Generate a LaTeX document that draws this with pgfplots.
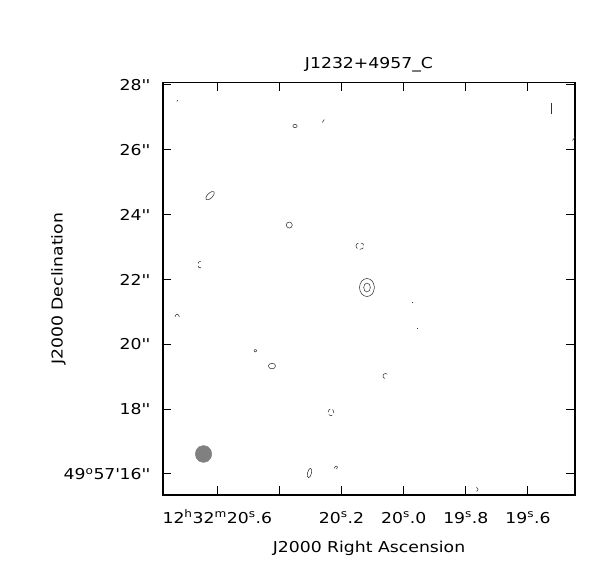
\documentclass[border=0pt]{standalone}
\usepackage{fontspec}
\setmainfont{DejaVu Sans}[FakeStretch=1.15]
\usepackage{pgfplots}
\pgfplotsset{compat=1.18}
\definecolor{beamgray}{gray}{0.5}

\begin{document}
\fontsize{15bp}{18bp}\selectfont
\begin{tikzpicture}
\useasboundingbox (-163bp,-82bp) rectangle (435bp,495bp);
\begin{axis}[
    width=412bp, height=412.5bp, scale only axis,
    x dir=reverse,
    xmin=19.4487, xmax=20.7748,
    ymin=15.352, ymax=28.077,
    tick pos=both, tick align=inside,
    major tick length=8.5bp,
    axis line style={line width=1.1bp},
    every tick/.style={line width=1bp, black},
    xtick={19.6,19.8,20.0,20.2,20.4,20.6},
    xticklabels={19\textsuperscript{s}.6, 19\textsuperscript{s}.8, 20\textsuperscript{s}.0, 20\textsuperscript{s}.2, {},
                 12\textsuperscript{h}32\textsuperscript{m}20\textsuperscript{s}.6},
    ytick={16,18,20,22,24,26,28},
    yticklabels={49\textsuperscript{o}57\textquotesingle16\textquotesingle\textquotesingle,
                 18\textquotesingle\textquotesingle, 20\textquotesingle\textquotesingle,
                 22\textquotesingle\textquotesingle, 24\textquotesingle\textquotesingle,
                 26\textquotesingle\textquotesingle, 28\textquotesingle\textquotesingle},
    xticklabel style={anchor=base, inner sep=0pt, yshift=-28bp},
    yticklabel style={anchor=east, inner sep=0pt, xshift=-13bp},
    title={J1232+4957\_C},
    title style={at={(axis description cs:0.5,1.0206)}, anchor=base, inner sep=0pt},
    xlabel={J2000 Right Ascension},
    xlabel style={at={(axis description cs:0.5,-0.140)}, anchor=base, inner sep=0pt},
    ylabel={J2000 Declination},
    ylabel style={at={(axis description cs:-0.2435,0.5)}, anchor=base, rotate=0, inner sep=0pt},
    cont/.style={black!80, line width=0.55bp, line join=round},
    ell/.style={cont, smooth, tension=0.6},
    neg/.style={cont, smooth, tension=0.6, dash pattern=on 4bp off 2.5bp},
]
% synthesized beam
\addplot[fill=beamgray, draw=beamgray, smooth, tension=0.6] coordinates {
  (20.6177,16.617) (20.6213,16.748) (20.6310,16.844) (20.6444,16.879)
  (20.6578,16.844) (20.6675,16.748) (20.6711,16.617) (20.6675,16.486)
  (20.6578,16.390) (20.6444,16.355) (20.6310,16.390) (20.6213,16.486)
  (20.6177,16.617)} -- cycle;

% central source, two contour levels
\addplot[ell] coordinates {
  (20.0941,21.753) (20.1011,21.949) (20.1182,22.031) (20.1353,21.949)
  (20.1423,21.753) (20.1353,21.557) (20.1182,21.475) (20.1011,21.557)
  (20.0941,21.753)};
\addplot[ell] coordinates {
  (20.1076,21.753) (20.1107,21.851) (20.1182,21.892) (20.1257,21.851)
  (20.1288,21.753) (20.1257,21.655) (20.1182,21.614) (20.1107,21.655)
  (20.1076,21.753)};

% small positive noise islands
\addplot[ell] coordinates {
  (20.6110,24.704) (20.6187,24.707) (20.6292,24.639) (20.6364,24.538)
  (20.6360,24.464) (20.6283,24.461) (20.6178,24.529) (20.6106,24.630)
  (20.6110,24.704)};
\addplot[ell] coordinates {
  (20.3780,23.680) (20.3751,23.746) (20.3683,23.773) (20.3615,23.746)
  (20.3586,23.680) (20.3615,23.615) (20.3683,23.587) (20.3751,23.615)
  (20.3780,23.680)};
\addplot[ell] coordinates {
  (20.3570,26.734) (20.3549,26.769) (20.3499,26.783) (20.3449,26.769)
  (20.3428,26.734) (20.3449,26.699) (20.3499,26.685) (20.3549,26.699)
  (20.3570,26.734)};
\addplot[ell] coordinates {
  (20.4352,19.331) (20.4319,19.392) (20.4239,19.417) (20.4159,19.392)
  (20.4126,19.331) (20.4159,19.270) (20.4239,19.245) (20.4319,19.270)
  (20.4352,19.331)};
\addplot[ell] coordinates {
  (20.4816,19.803) (20.4805,19.829) (20.4777,19.840) (20.4749,19.829)
  (20.4738,19.803) (20.4749,19.777) (20.4777,19.766) (20.4805,19.777)
  (20.4816,19.803)};
\addplot[ell] coordinates {
  (20.2969,16.031) (20.2966,16.133) (20.3003,16.176) (20.3057,16.133)
  (20.3097,16.031) (20.3100,15.929) (20.3063,15.886) (20.3009,15.929)
  (20.2969,16.031)};

% broken (negative) contours
\addplot[neg] coordinates {
  (20.1536,23.033) (20.1498,23.105) (20.1407,23.135) (20.1316,23.105)
  (20.1278,23.033) (20.1316,22.961) (20.1407,22.931) (20.1498,22.961)
  (20.1536,23.033)};
\addplot[neg] coordinates {
  (20.2431,17.903) (20.2405,17.979) (20.2341,18.011) (20.2277,17.979)
  (20.2251,17.903) (20.2277,17.827) (20.2341,17.795) (20.2405,17.827)
  (20.2431,17.903)};
\addplot[neg] coordinates {
  (20.6525,22.550) (20.6589,22.550) (20.6621,22.456) (20.6589,22.362) (20.6525,22.362)};
\addplot[cont, smooth] coordinates {
  (20.0529,19.078) (20.0586,19.100) (20.0643,19.078) (20.0667,19.023) (20.0643,18.968) (20.0600,18.947)};

% tiny fragments
\addplot[cont] coordinates {(20.7304,27.490) (20.7271,27.536)};
\addplot[cont] coordinates {(20.2620,26.842) (20.2556,26.935)};
\addplot[cont] coordinates {(19.4568,26.287) (19.4487,26.395)};
\addplot[cont, line width=0.7bp] coordinates {(19.5237,27.453) (19.5237,27.104)};
\addplot[cont] coordinates {(19.9711,21.280) (19.9711,21.318)};
\addplot[cont] coordinates {(19.9565,20.482) (19.9535,20.482)};
\addplot[cont, smooth] coordinates {
  (20.7361,20.843) (20.7336,20.904) (20.7291,20.929) (20.7246,20.904) (20.7223,20.843)};
\addplot[cont, smooth] coordinates {
  (20.2244,16.170) (20.2180,16.247) (20.2131,16.216) (20.2164,16.154)};
\addplot[cont, smooth] coordinates {
  (19.7664,15.584) (19.7616,15.553) (19.7609,15.522) (19.7625,15.484) (19.7658,15.466)};
\end{axis}
\end{tikzpicture}
\end{document}
